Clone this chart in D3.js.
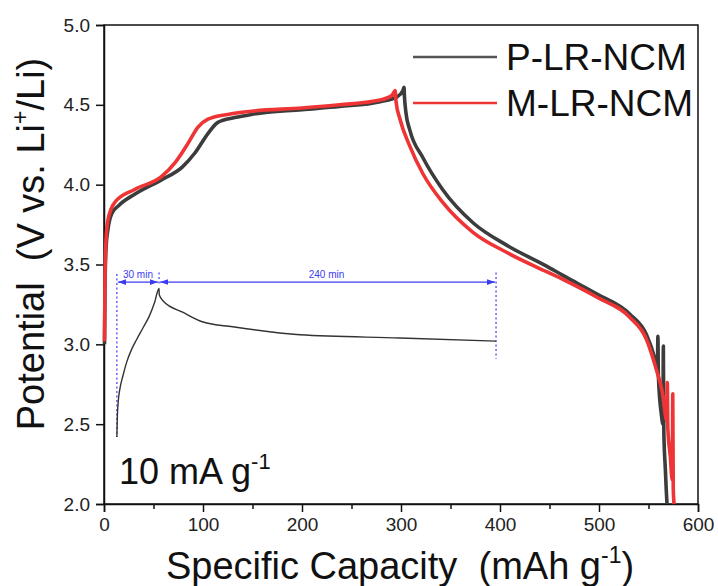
<!DOCTYPE html>
<html>
<head>
<meta charset="utf-8">
<script src="https://cdn.jsdelivr.net/npm/d3@7"></script>
<style>
  body { margin: 0; background: #fff; }
  svg { font-family: "Liberation Sans", Arial, sans-serif; }
  text { white-space: pre; }
</style>
</head>
<body>
<svg id="chart" width="718" height="586"></svg>
<script>
// P-LR-NCM (black) : charge then discharge, capacity (mAh/g) vs potential (V)
const pCap = [0.5, 1, 2, 4, 8, 15, 31, 58, 79, 92, 105, 115, 132, 149, 200, 238, 279, 296, 302, 303, 303.5,
  305, 309, 322, 342, 373, 407, 447, 464, 498, 531, 548, 556, 559, 559.5, 560, 563, 564.6, 565, 565.5, 567, 568, 568.7];
const pVolt = [3.0, 3.35, 3.6, 3.72, 3.82, 3.87, 3.94, 4.03, 4.11, 4.20, 4.32, 4.39, 4.42, 4.44, 4.47, 4.49, 4.52, 4.55, 4.59, 4.61, 4.55,
  4.45, 4.34, 4.17, 3.97, 3.76, 3.62, 3.49, 3.43, 3.315, 3.19, 3.06, 2.92, 2.84, 3.05, 2.80, 2.56, 2.50, 2.99, 2.45, 2.22, 2.08, 2.0];

// M-LR-NCM (red)
const mCap = [0.5, 1, 2, 4, 11, 31, 58, 72, 85, 95, 105, 125, 149, 200, 238, 279, 291, 294, 295,
  299, 309, 322, 342, 373, 407, 447, 464, 498, 531, 548, 558, 564, 568.5, 569, 569.5, 572, 574, 574.5, 575, 575.8];
const mVolt = [3.02, 3.4, 3.65, 3.78, 3.89, 3.97, 4.05, 4.14, 4.26, 4.36, 4.41, 4.44, 4.46, 4.48, 4.50, 4.53, 4.56, 4.59, 4.52,
  4.41, 4.24, 4.07, 3.89, 3.70, 3.575, 3.455, 3.405, 3.295, 3.17, 3.03, 2.84, 2.70, 2.52, 2.76, 2.48, 2.30, 2.15, 2.69, 2.10, 2.0];

// inset relaxation curve (drawn in the same axes)
const insetCap = [13, 13.5, 14.5, 16, 19, 23, 28, 33, 40, 46, 51, 55.6, 55.8, 60, 80, 100, 130, 198, 299, 396];
const insetVolt = [2.42, 2.55, 2.65, 2.72, 2.80, 2.89, 2.97, 3.03, 3.11, 3.18, 3.26, 3.35, 3.31, 3.27, 3.20, 3.14, 3.11, 3.06, 3.04, 3.02];

// time marks of the inset (x positions) and their labels
const markCap = [13, 55.6, 396];
const markLabels = ["30 min", "240 min"];

const seriesNames = ["P-LR-NCM", "M-LR-NCM"];
const seriesColors = ["#3c3c3c", "#ee3434"];

const xTicks = [0, 100, 200, 300, 400, 500, 600];
const xMinor = [50, 150, 250, 350, 450, 550];
const yTicks = [2.0, 2.5, 3.0, 3.5, 4.0, 4.5, 5.0];

const svg = d3.select("#chart");
const plotLeft = 104, plotRight = 698, plotTop = 25, plotBottom = 504;

const x = d3.scaleLinear().domain([0, 600]).range([plotLeft, plotRight]);
const y = d3.scaleLinear().domain([2, 5]).range([plotBottom, plotTop]);

//frame
svg.append("rect")
  .attr("x", plotLeft).attr("y", plotTop)
  .attr("width", plotRight - plotLeft).attr("height", plotBottom - plotTop)
  .attr("fill", "none").attr("stroke", "#111").attr("stroke-width", 1.5);

// minor x ticks
svg.append("g")
  .attr("transform", `translate(0,${plotBottom})`)
  .call(d3.axisBottom(x).tickValues(xMinor).tickSize(5).tickFormat(""))
  .call(g => g.select(".domain").remove())
  .call(g => g.selectAll("line").attr("stroke", "#111").attr("stroke-width", 1.5));

// x axis
svg.append("g")
  .attr("transform", `translate(0,${plotBottom})`)
  .call(d3.axisBottom(x).tickValues(xTicks).tickSize(8).tickPadding(6).tickFormat(d3.format("d")))
  .call(g => g.select(".domain").attr("stroke", "#111").attr("stroke-width", 1.5))
  .call(g => g.selectAll("line").attr("stroke", "#111").attr("stroke-width", 1.5))
  .call(g => g.selectAll("text").attr("font-size", 19).attr("fill", "#222").attr("font-family", "Liberation Sans, Arial, sans-serif"));

// y axis
svg.append("g")
  .attr("transform", `translate(${plotLeft},0)`)
  .call(d3.axisLeft(y).tickValues(yTicks).tickSize(8).tickPadding(6).tickFormat(d3.format(".1f")))
  .call(g => g.select(".domain").attr("stroke", "#111").attr("stroke-width", 1.5))
  .call(g => g.selectAll("line").attr("stroke", "#111").attr("stroke-width", 1.5))
  .call(g => g.selectAll("text").attr("font-size", 19).attr("fill", "#222").attr("font-family", "Liberation Sans, Arial, sans-serif"));

const line = d3.line().x(d => x(d[0])).y(d => y(d[1])).curve(d3.curveMonotoneX);

// inset annotation (blue)
const blue = "#3b3bf0";
const defs = svg.append("defs");
defs.append("marker").attr("id", "arr").attr("viewBox", "0 0 10 10")
  .attr("refX", 10).attr("refY", 5).attr("markerWidth", 7).attr("markerHeight", 7)
  .attr("orient", "auto-start-reverse")
  .append("path").attr("d", "M0,1.5 L10,5 L0,8.5 Z").attr("fill", blue);

const markTop = [3.44, 3.45, 3.45];
const markBottom = [2.42, 3.38, 2.91];
markCap.forEach((c, i) => {
  svg.append("line")
    .attr("x1", x(c)).attr("x2", x(c))
    .attr("y1", y(markTop[i])).attr("y2", y(markBottom[i]))
    .attr("stroke", blue).attr("stroke-width", 1.2).attr("stroke-dasharray", "2,2.5");
});

const arrowV = 3.39;
for (let i = 0; i < markCap.length - 1; i++) {
  svg.append("line")
    .attr("x1", x(markCap[i]) + 1).attr("x2", x(markCap[i + 1]) - 1)
    .attr("y1", y(arrowV)).attr("y2", y(arrowV))
    .attr("stroke", blue).attr("stroke-width", 1.2)
    .attr("marker-start", "url(#arr)").attr("marker-end", "url(#arr)");
  svg.append("text")
    .attr("x", (x(markCap[i]) + x(markCap[i + 1])) / 2 + (i === 0 ? 0 : -1))
    .attr("y", y(arrowV) - 4)
    .attr("text-anchor", "middle").attr("font-size", 10).attr("fill", blue)
    .text(markLabels[i]);
}

svg.append("path")
  .datum(d3.zip(insetCap, insetVolt))
  .attr("d", line)
  .attr("fill", "none").attr("stroke", "#333").attr("stroke-width", 1.4);

// main curves
const series = [d3.zip(pCap, pVolt), d3.zip(mCap, mVolt)];
series.forEach((s, i) => {
  svg.append("path")
    .datum(s)
    .attr("d", line)
    .attr("fill", "none")
    .attr("stroke", seriesColors[i])
    .attr("stroke-width", 3.6)
    .attr("stroke-linejoin", "round");
});

// legend
const legend = svg.append("g");
seriesNames.forEach((name, i) => {
  const ly = 57 + i * 46;
  legend.append("line")
    .attr("x1", 413).attr("x2", 497).attr("y1", ly).attr("y2", ly)
    .attr("stroke", i === 0 ? "#555" : seriesColors[i]).attr("stroke-width", 2.5);
  legend.append("text")
    .attr("x", 506).attr("y", ly + 13)
    .attr("font-size", 37).attr("fill", "#111")
    .text(name);
});

// rate label
const rate = svg.append("text").attr("x", 119).attr("y", 484).attr("font-size", 36).attr("fill", "#111");
rate.append("tspan").text("10 mA g");
rate.append("tspan").attr("font-size", 22).attr("dy", -15).text("-1");

// axis titles
const xt = svg.append("text").attr("x", 400).attr("y", 579).attr("text-anchor", "middle")
  .attr("font-size", 38).attr("fill", "#111");
xt.append("tspan").text("Specific Capacity  (mAh g");
xt.append("tspan").attr("font-size", 23).attr("dy", -16).text("-1");
xt.append("tspan").attr("dy", 16).text(")");

const yt = svg.append("text")
  .attr("transform", "translate(44,244) rotate(-90)")
  .attr("text-anchor", "middle").attr("font-size", 38).attr("fill", "#111");
yt.append("tspan").text("Potential  (V vs. Li");
yt.append("tspan").attr("font-size", 23).attr("dy", -16).text("+");
yt.append("tspan").attr("dy", 16).text("/Li)");
</script>
</body>
</html>
